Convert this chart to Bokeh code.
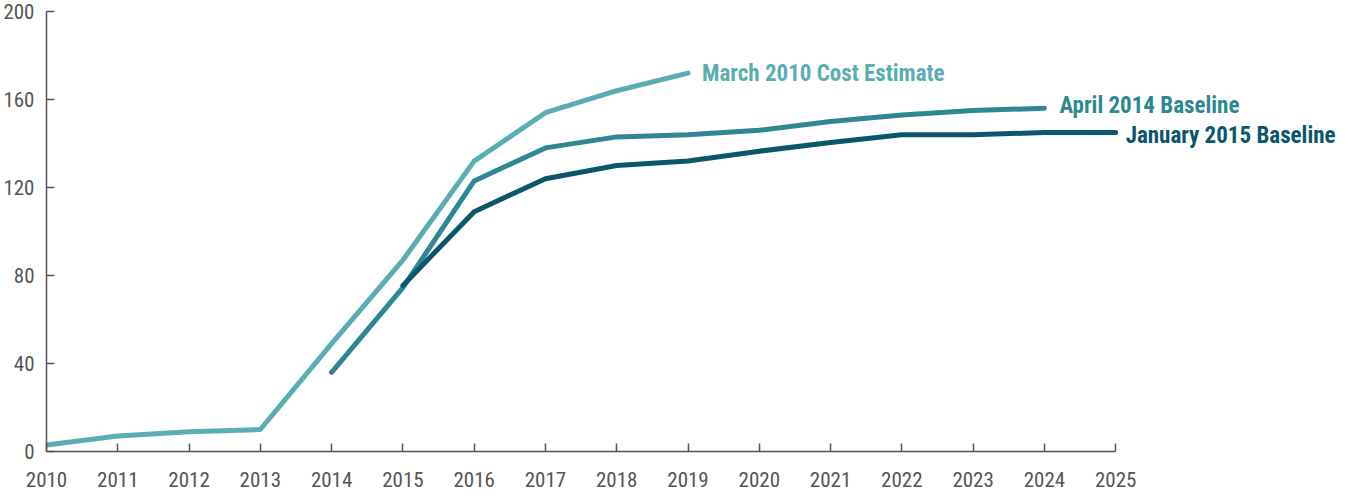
from bokeh.plotting import figure
from bokeh.models import Range1d, FixedTicker, Label
from bokeh.embed import file_html
from bokeh.resources import INLINE

years_march = [2010, 2011, 2012, 2013, 2014, 2015, 2016, 2017, 2018, 2019]
march_2010 = [3, 7, 9, 10, 49, 87, 132, 154, 164, 172]

years_april = [2014, 2015, 2016, 2017, 2018, 2019, 2020, 2021, 2022, 2023, 2024]
april_2014 = [36, 74.5, 123, 138, 143, 144, 146, 150, 153, 155, 156]

years_jan = [2015, 2016, 2017, 2018, 2019, 2020, 2021, 2022, 2023, 2024, 2025]
jan_2015 = [75.5, 109, 124, 130, 132, 136.5, 140.5, 144, 144, 145, 145]

series_names = ["March 2010 Cost Estimate", "April 2014 Baseline", "January 2015 Baseline"]
colors = ["#5aadb3", "#2e8792", "#0b566b"]

x_ticks = list(range(2010, 2026))
y_ticks = [0, 40, 80, 120, 160, 200]

FONT = "Roboto Condensed, DejaVu Sans Condensed, Liberation Sans Narrow, Roboto"

# frame spans canvas x 45..1345; axis years 2010..2025 occupy 45..1115
W, LEFT, RIGHT = 1350, 45, 5
frame_w = W - LEFT - RIGHT
px_per_year = (1115 - LEFT) / 15.0
x_end = 2010 + frame_w / px_per_year

p = figure(width=W, height=490, output_backend="svg", toolbar_location=None,
           x_range=Range1d(2010, x_end), y_range=Range1d(0, 200),
           min_border_left=LEFT, min_border_right=RIGHT, min_border_top=11, min_border_bottom=39)
p.outline_line_color = None
p.xgrid.grid_line_color = None
p.ygrid.grid_line_color = None
p.background_fill_color = "white"

for ax, ticks in ((p.xaxis, x_ticks), (p.yaxis, y_ticks)):
    ax.ticker = FixedTicker(ticks=ticks)
    ax.axis_line_color = "#555555"
    ax.axis_line_width = 1.5
    ax.major_tick_line_color = "#555555"
    ax.major_tick_line_width = 1.5
    ax.major_tick_in = 8
    ax.major_tick_out = 0
    ax.minor_tick_line_color = None
    ax.major_label_text_color = "#555555"
    ax.major_label_text_font = FONT
    ax.major_label_text_font_size = "21px"
p.xaxis.bounds = (2010, 2025)
p.xaxis.major_label_standoff = 20
p.yaxis.major_label_standoff = 12

data = [(years_march, march_2010), (years_april, april_2014), (years_jan, jan_2015)]
y_offsets = [0, 3, -3]
x_offsets = [14, 15, 10]
for (xs, ys), name, c, yo, xo in zip(data, series_names, colors, y_offsets, x_offsets):
    p.line(xs, ys, line_color=c, line_width=5, line_cap="round", line_join="round")
    p.add_layout(Label(x=xs[-1], y=ys[-1], text=name, x_offset=xo, y_offset=yo,
                       text_color=c, text_font=FONT, text_font_style="bold",
                       text_font_size="23px", text_baseline="middle", text_align="left"))

open("out.html", "w").write(file_html(p, INLINE))
